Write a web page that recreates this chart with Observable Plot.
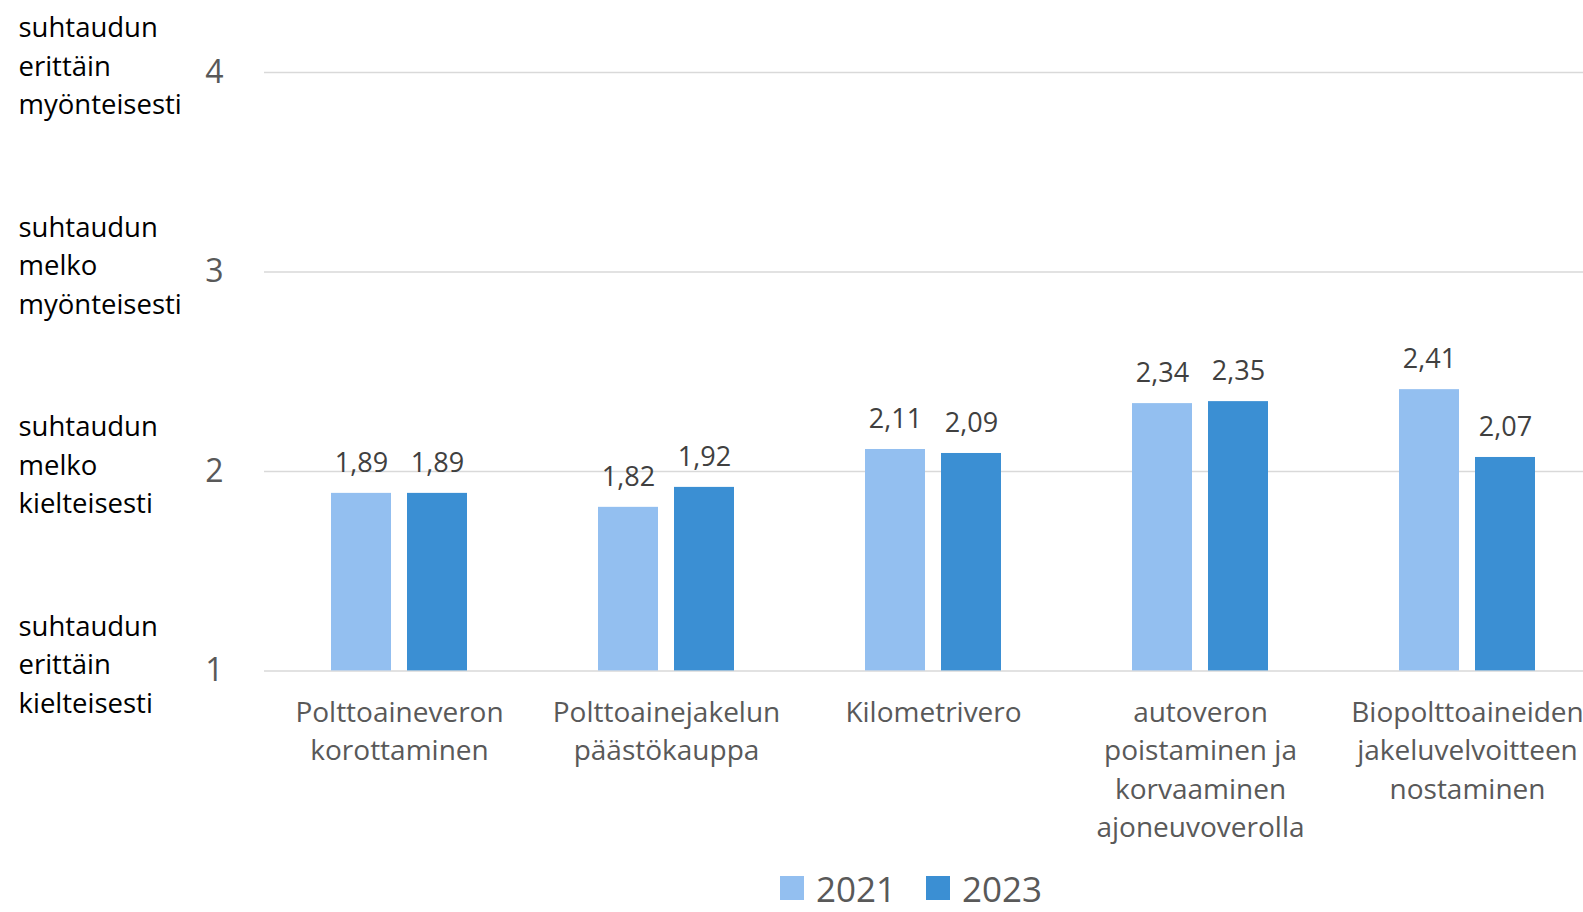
<!DOCTYPE html>
<html>
<head>
<meta charset="utf-8">
<script src="https://cdn.jsdelivr.net/npm/d3@7"></script>
<script src="https://cdn.jsdelivr.net/npm/@observablehq/plot@0.6"></script>
<style>
  html, body { margin: 0; padding: 0; background: #fff; overflow: hidden; }
  body { font-family: "Open Sans", sans-serif; width: 1583px; height: 912px; position: relative; }
  #legend { position: absolute; left: 780px; top: 864px; height: 48px; display: flex; align-items: center; font-size: 35px; color: #595959; }
  #legend .item { display: flex; align-items: center; margin-right: 30px; }
  #legend .sw { width: 24px; height: 24px; margin-right: 12px; }
</style>
</head>
<body>
<div id="chart"></div>
<div id="legend"></div>
<script>
const categories = [
  "Polttoaineveron korottaminen",
  "Polttoainejakelun päästökauppa",
  "Kilometrivero",
  "autoveron poistaminen ja korvaaminen ajoneuvoverolla",
  "Biopolttoaineiden jakeluvelvoitteen nostaminen"
];
const categoryLabels = [
  "Polttoaineveron\nkorottaminen",
  "Polttoainejakelun\npäästökauppa",
  "Kilometrivero",
  "autoveron\npoistaminen ja\nkorvaaminen\najoneuvoverolla",
  "Biopolttoaineiden\njakeluvelvoitteen\nnostaminen"
];
const years = ["2021", "2023"];
const values2021 = [1.89, 1.82, 2.11, 2.34, 2.41];
const values2023 = [1.89, 1.92, 2.09, 2.35, 2.07];
const yTicks = [1, 2, 3, 4];
const yTickLabels = [
  "suhtaudun\nerittäin\nkielteisesti",
  "suhtaudun\nmelko\nkielteisesti",
  "suhtaudun\nmelko\nmyönteisesti",
  "suhtaudun\nerittäin\nmyönteisesti"
];
const colors = ["#93bff0", "#3b8fd3"];

const rows2021 = categories.map((c, i) => ({category: c, year: years[0], value: values2021[i]}));
const rows2023 = categories.map((c, i) => ({category: c, year: years[1], value: values2023[i]}));
const ticks = yTicks.map((v, i) => ({v, label: yTickLabels[i]}));
const fmt = d => d.toFixed(2).replace(".", ",");
const labelOf = c => categoryLabels[categories.indexOf(c)];

const W = 1583, H = 860;
const half = 76; // half of group band: bar width 60 + gap 16
const plot = Plot.plot({
  width: W,
  height: H,
  marginLeft: 264,
  marginRight: -18,
  marginTop: 72,
  marginBottom: H - 670.4,
  style: {fontFamily: "Open Sans, sans-serif", background: "#fff", overflow: "visible"},
  x: {domain: categories, paddingInner: 0.4916, paddingOuter: 0.2458, axis: null},
  y: {domain: [1, 4], axis: null},
  color: {domain: years, range: colors},
  marks: [
    Plot.ruleY(yTicks, {stroke: "#d9d9d9", strokeWidth: 1.5}),
    Plot.barY(rows2021, {x: "category", y1: 1, y2: "value", fill: "year", insetRight: half}),
    Plot.barY(rows2023, {x: "category", y1: 1, y2: "value", fill: "year", insetLeft: half}),
    Plot.text(rows2021, {x: "category", y: "value", text: d => fmt(d.value), dx: -half / 2, dy: -30, lineAnchor: "middle", fontSize: 27, fill: "#404040"}),
    Plot.text(rows2023, {x: "category", y: "value", text: d => fmt(d.value), dx: half / 2, dy: -30, lineAnchor: "middle", fontSize: 27, fill: "#404040"}),
    Plot.axisY({ticks: yTicks, tickSize: 0, tickPadding: 41, fontSize: 32, color: "#595959", label: null, tickFormat: d => String(d)}),
    Plot.text(ticks, {y: "v", text: "label", frameAnchor: "left", textAnchor: "start", dx: -246, dy: -9, lineAnchor: "middle", lineHeight: 1.4, fontSize: 27.5, fill: "#000"}),
    Plot.axisX({tickSize: 0, tickPadding: 24, fontSize: 28, lineHeight: 1.37, color: "#595959", tickFormat: labelOf, label: null})
  ]
});
document.getElementById("chart").appendChild(plot);

const legend = document.getElementById("legend");
years.forEach((y, i) => {
  const item = document.createElement("div");
  item.className = "item";
  const sw = document.createElement("div");
  sw.className = "sw";
  sw.style.background = colors[i];
  const t = document.createElement("span");
  t.textContent = y;
  item.appendChild(sw);
  item.appendChild(t);
  legend.appendChild(item);
});
</script>
</body>
</html>
